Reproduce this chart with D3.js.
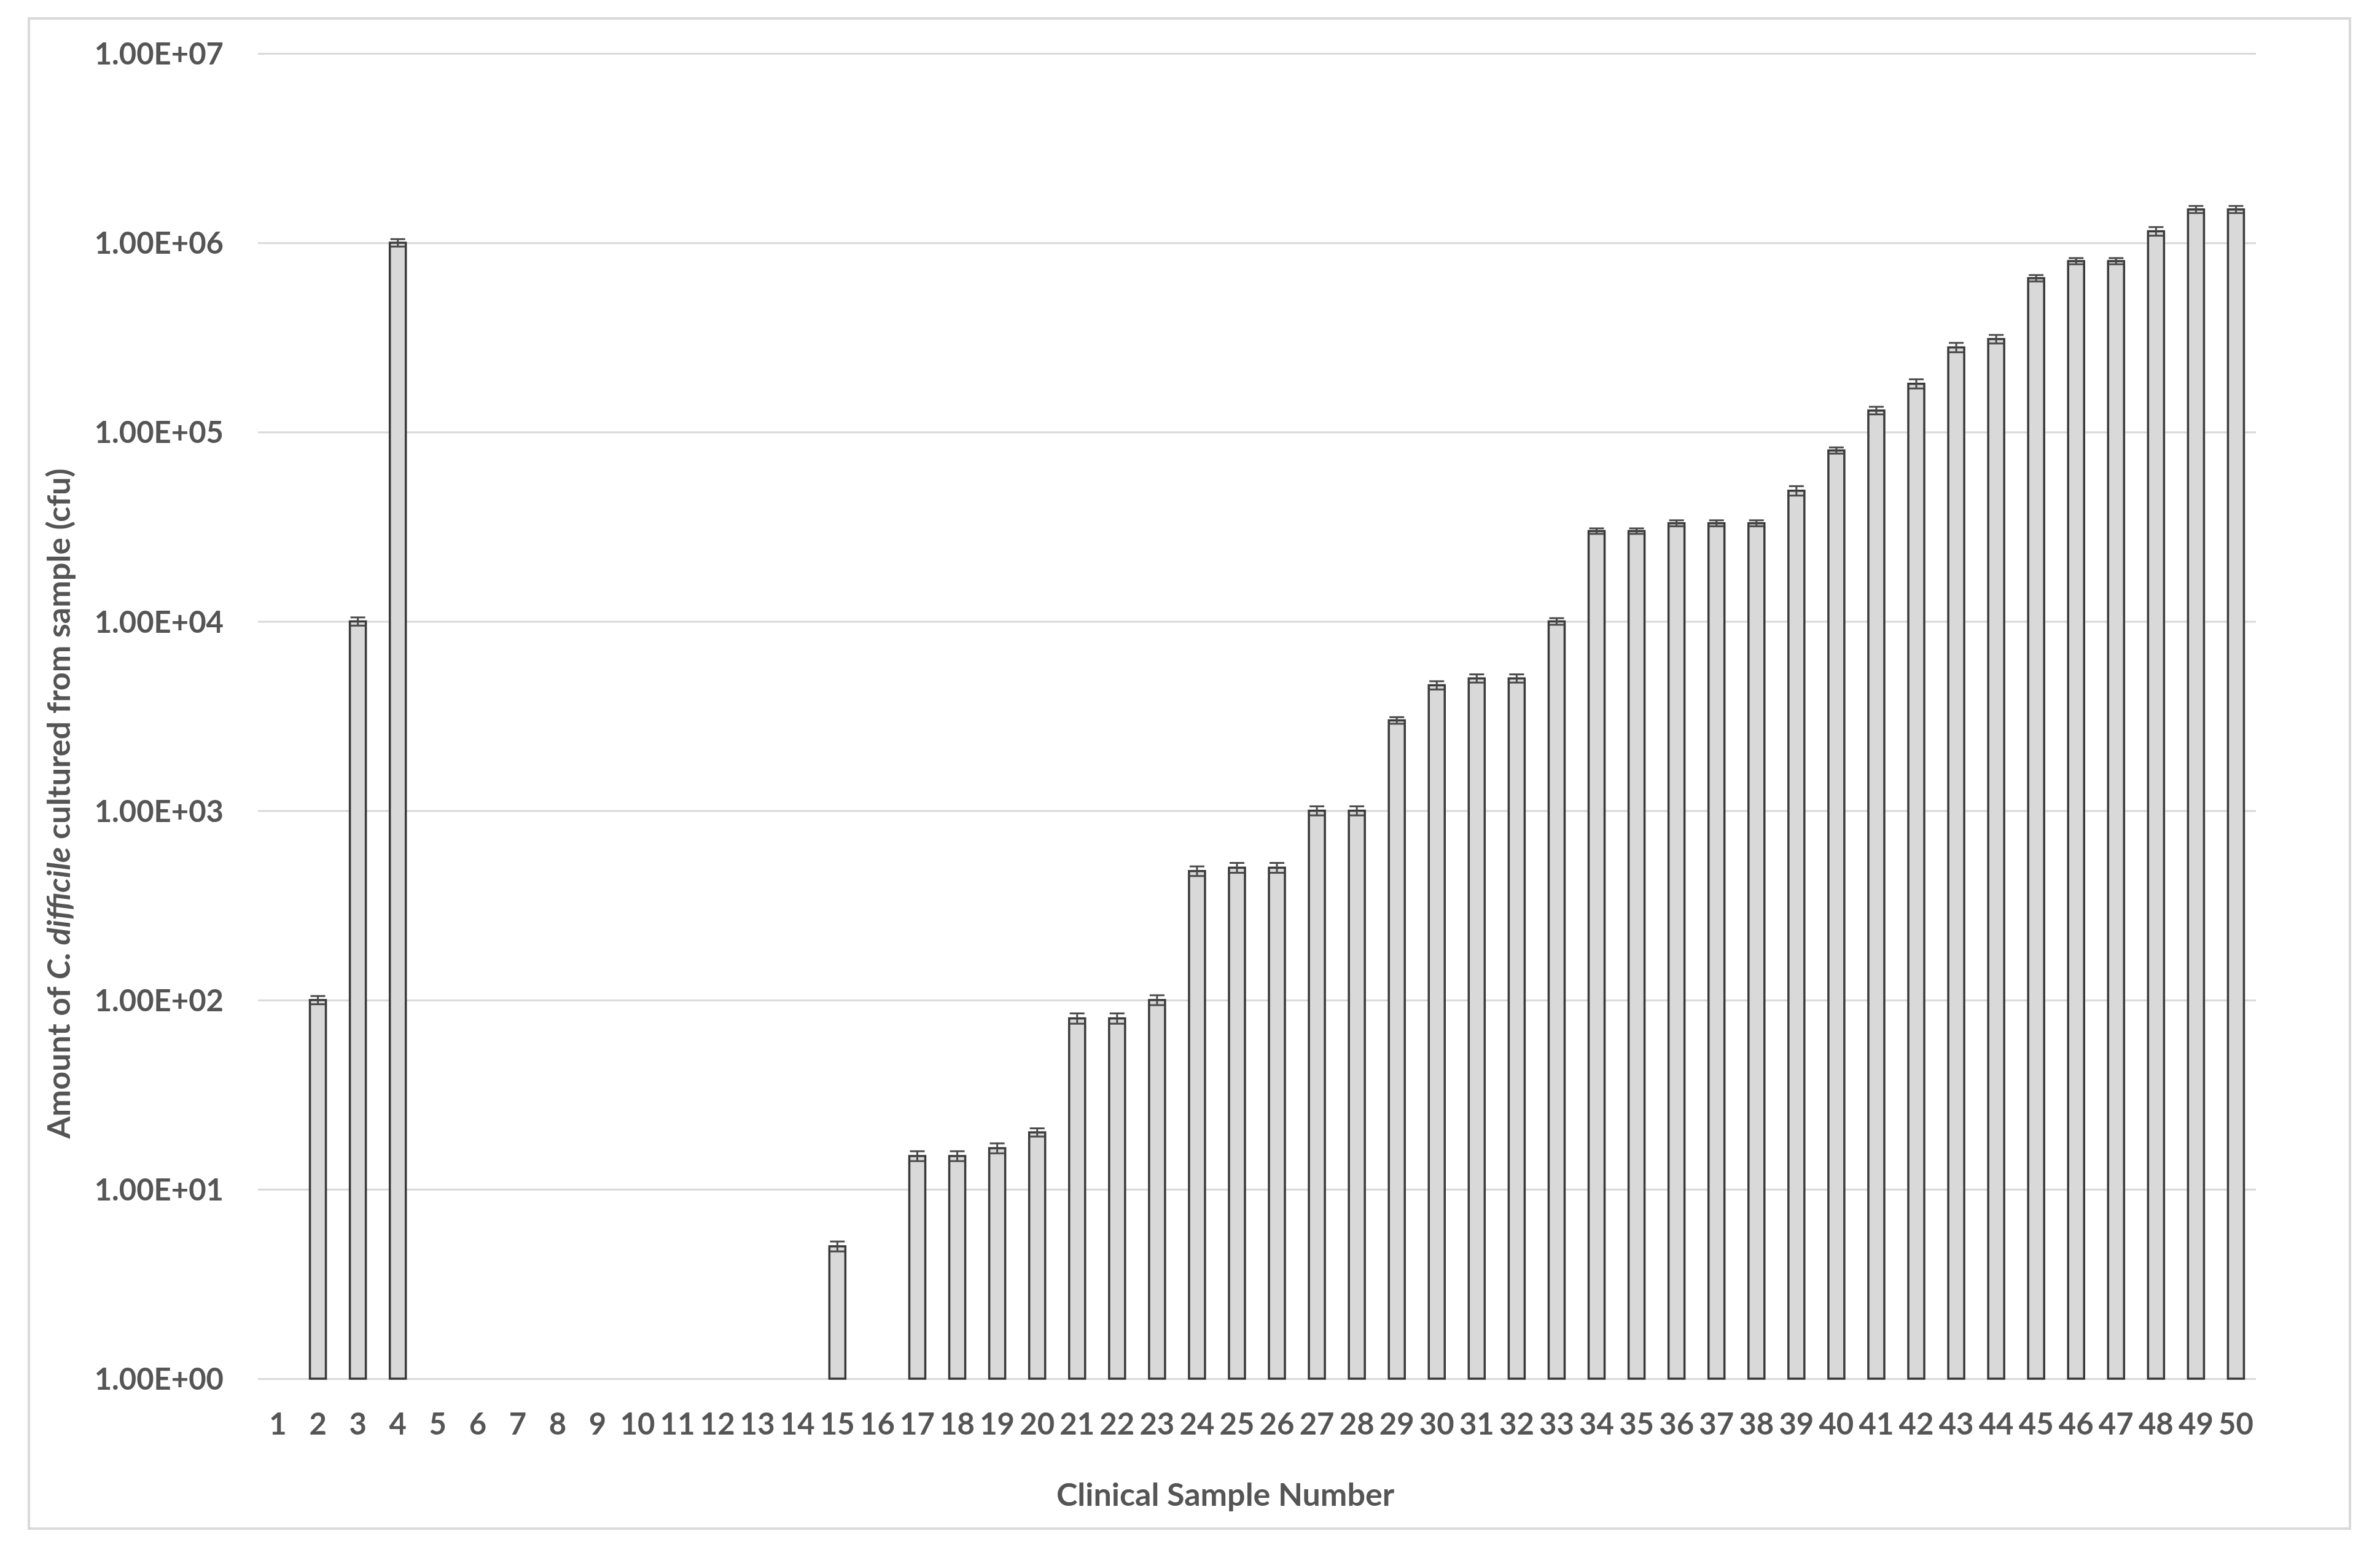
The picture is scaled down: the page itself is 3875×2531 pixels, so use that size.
<!DOCTYPE html>
<html>
<head>
<meta charset="utf-8">
<script src="https://cdn.jsdelivr.net/npm/d3@7"></script>
<style>
  html, body { margin: 0; padding: 0; background: #ffffff; }
  svg { display: block; }
</style>
</head>
<body>
<svg id="chart"></svg>
<script>
// ---------------- DATA ----------------
const categories = ["1","2","3","4","5","6","7","8","9","10",
  "11","12","13","14","15","16","17","18","19","20",
  "21","22","23","24","25","26","27","28","29","30",
  "31","32","33","34","35","36","37","38","39","40",
  "41","42","43","44","45","46","47","48","49","50"];

// cfu per clinical sample (0 = nothing cultured, no bar shown)
const cfuValues = [0, 100, 10000, 1000000, 0, 0, 0, 0, 0, 0,
  0, 0, 0, 0, 5, 0, 15, 15, 16.5, 20,
  80, 80, 100, 480, 500, 500, 1000, 1000, 3000, 4600,
  5000, 5000, 10000, 30000, 30000, 33000, 33000, 33000, 49000, 80000,
  130000, 180000, 280000, 310000, 650000, 800000, 800000, 1150000, 1500000, 1500000];

// error (+/-) per sample
const cfuErrors = [0, 5, 500, 45000, 0, 0, 0, 0, 0, 0,
  0, 0, 0, 0, 0.3, 0, 0.9, 0.9, 1, 1,
  5, 5, 6, 28, 30, 30, 55, 55, 120, 230,
  250, 250, 400, 1000, 1000, 1200, 1200, 1200, 2800, 3000,
  6000, 10000, 16000, 16000, 25000, 30000, 30000, 60000, 65000, 65000];

const yTickValues = [1, 10, 100, 1000, 10000, 100000, 1000000, 10000000];
const yTickLabels = ["1.00E+00","1.00E+01","1.00E+02","1.00E+03","1.00E+04","1.00E+05","1.00E+06","1.00E+07"];

const xTitle = "Clinical Sample Number";

// ---------------- LAYOUT ----------------
const W = 3875, H = 2531;
const plot = { left: 420, right: 3673, top: 87, bottom: 2244 };
const textColor = "#555555";
const fontFamily = "Lato, 'Open Sans', sans-serif";
const fontWeight = 700;

const svg = d3.select("#chart").attr("width", W).attr("height", H);

svg.append("rect").attr("width", W).attr("height", H).attr("fill", "#ffffff");

// outer chart border
svg.append("rect")
  .attr("x", 47).attr("y", 30)
  .attr("width", 3826 - 47).attr("height", 2488 - 30)
  .attr("fill", "#ffffff")
  .attr("stroke", "#d9d9d9")
  .attr("stroke-width", 4);

const x = d3.scaleBand()
  .domain(categories)
  .range([plot.left, plot.right])
  .paddingInner(0.6)
  .paddingOuter(0.3);

const y = d3.scaleLog()
  .domain([1, 1e7])
  .range([plot.bottom, plot.top]);

// gridlines
const grid = svg.append("g")
  .attr("transform", `translate(${plot.left},0)`)
  .call(d3.axisLeft(y).tickValues(yTickValues).tickSize(-(plot.right - plot.left)).tickFormat(""));
grid.select(".domain").remove();
grid.selectAll(".tick line").attr("stroke", "#d9d9d9").attr("stroke-width", 3);

// y axis labels
const yAxis = svg.append("g")
  .attr("transform", `translate(${plot.left},0)`)
  .call(d3.axisLeft(y).tickValues(yTickValues).tickSize(0).tickPadding(56)
    .tickFormat((d, i) => yTickLabels[i]));
yAxis.select(".domain").remove();
yAxis.selectAll("text")
  .attr("fill", textColor)
  .attr("font-family", fontFamily)
  .attr("font-weight", fontWeight)
  .attr("font-size", 49)
  .attr("dy", "0.36em");

// x axis labels
const xAxis = svg.append("g")
  .attr("transform", `translate(0,${plot.bottom})`)
  .call(d3.axisBottom(x).tickSize(0));
xAxis.select(".domain").remove();
xAxis.selectAll("text")
  .attr("fill", textColor)
  .attr("font-family", fontFamily)
  .attr("font-weight", fontWeight)
  .attr("font-size", 49)
  .attr("y", 91)
  .attr("dy", 0);

// data rows
const rows = categories.map((c, i) => ({ cat: c, value: cfuValues[i], err: cfuErrors[i] }))
  .filter(d => d.value > 0);

// bars
svg.append("g").selectAll("rect")
  .data(rows)
  .join("rect")
  .attr("x", d => x(d.cat))
  .attr("width", x.bandwidth())
  .attr("y", d => y(d.value))
  .attr("height", d => y(1) - y(d.value))
  .attr("fill", "#d9d9d9")
  .attr("stroke", "#3a3a3a")
  .attr("stroke-width", 3.5);

// error bars
const capHalf = x.bandwidth() / 2 - 1;
const eb = svg.append("g")
  .attr("stroke", "#4a4a4a")
  .attr("stroke-width", 3)
  .selectAll("g")
  .data(rows)
  .join("g");
eb.append("line")
  .attr("x1", d => x(d.cat) + x.bandwidth() / 2)
  .attr("x2", d => x(d.cat) + x.bandwidth() / 2)
  .attr("y1", d => y(d.value + d.err))
  .attr("y2", d => y(Math.max(1, d.value - d.err)));
eb.append("line")
  .attr("x1", d => x(d.cat) + x.bandwidth() / 2 - capHalf)
  .attr("x2", d => x(d.cat) + x.bandwidth() / 2 + capHalf)
  .attr("y1", d => y(d.value + d.err))
  .attr("y2", d => y(d.value + d.err));
eb.append("line")
  .attr("x1", d => x(d.cat) + x.bandwidth() / 2 - capHalf)
  .attr("x2", d => x(d.cat) + x.bandwidth() / 2 + capHalf)
  .attr("y1", d => y(Math.max(1, d.value - d.err)))
  .attr("y2", d => y(Math.max(1, d.value - d.err)));

// x axis title
svg.append("text")
  .attr("x", 1995).attr("y", 2451)
  .attr("text-anchor", "middle")
  .attr("fill", textColor)
  .attr("font-family", fontFamily)
  .attr("font-weight", fontWeight)
  .attr("font-size", 52)
  .text(xTitle);

// y axis title (with italic species name)
const yTitle = svg.append("text")
  .attr("transform", "translate(114,1308) rotate(-90)")
  .attr("text-anchor", "middle")
  .attr("fill", textColor)
  .attr("font-family", fontFamily)
  .attr("font-weight", fontWeight)
  .attr("font-size", 52);
yTitle.append("tspan").text("Amount of ");
yTitle.append("tspan").attr("font-style", "italic").text("C. difficile");
yTitle.append("tspan").text(" cultured from sample (cfu)");
</script>
</body>
</html>
